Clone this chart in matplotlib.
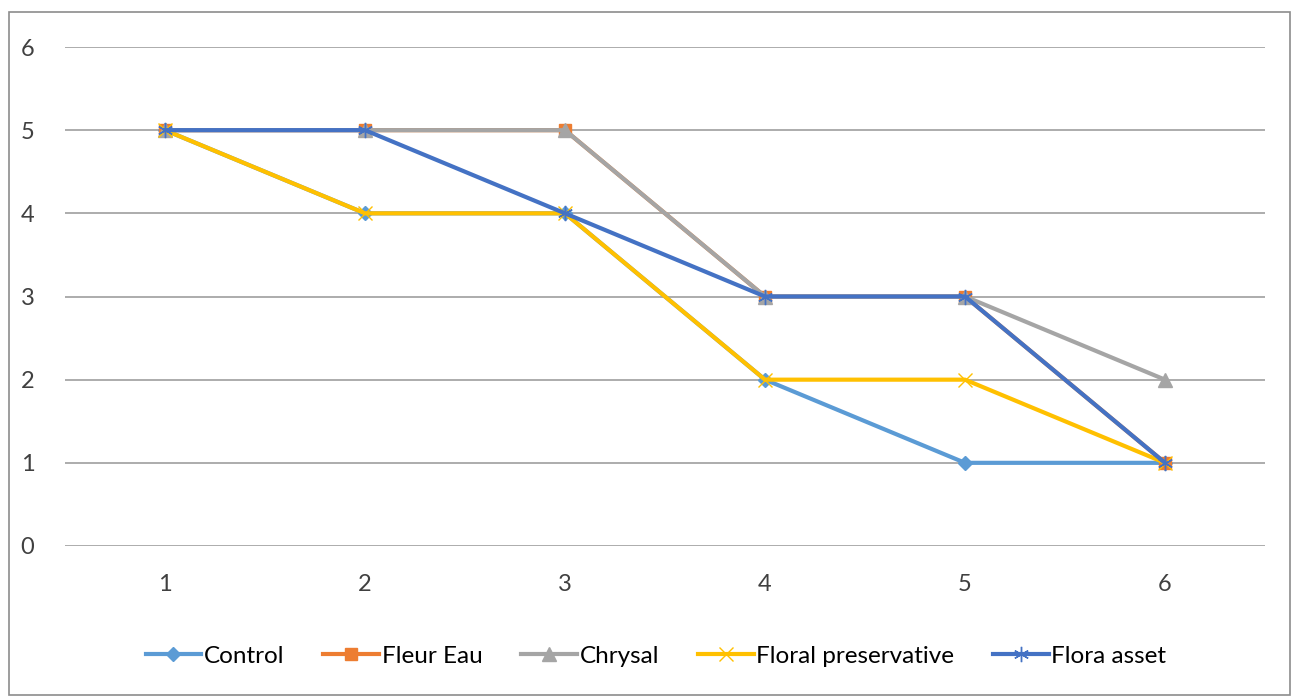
import matplotlib.pyplot as plt
from matplotlib.patches import Rectangle

plt.rcParams['font.family'] = ['Lato', 'DejaVu Sans']

days = [1, 2, 3, 4, 5, 6]
control = [5, 4, 4, 2, 1, 1]
fleur_eau = [5, 5, 5, 3, 3, 1]
chrysal = [5, 5, 5, 3, 3, 2]
floral_pres = [5, 4, 4, 2, 2, 1]
flora_asset = [5, 5, 4, 3, 3, 1]

W, H = 1295, 698
fig = plt.figure(figsize=(W / 100, H / 100), dpi=100)
ax = fig.add_axes([65 / W, 1 - 546 / H, 1200 / W, (546 - 47) / H])

ax.plot(days, control, color='#5B9BD5', lw=3, marker='D', ms=7, label='Control')
ax.plot(days, fleur_eau, color='#ED7D31', lw=3, marker='s', ms=9, label='Fleur Eau')
ax.plot(days, chrysal, color='#A5A5A5', lw=3, marker='^', ms=10, label='Chrysal')
ax.plot(days, floral_pres, color='#FFC000', lw=3, marker='x', ms=10, mew=1,
        label='Floral preservative')
ax.plot(days, flora_asset, color='#4472C4', lw=3, marker=(6, 2, 0), ms=11, mew=1,
        label='Flora asset')

ax.set_xlim(0.5, 6.5)
ax.set_ylim(0, 6)
ax.set_yticks(range(7))
ax.set_xticks(days)
ax.grid(axis='y', color='#A6A6A6', lw=1.3)
ax.set_axisbelow(True)
for s in ['top', 'right', 'left', 'bottom']:
    ax.spines[s].set_visible(False)
ax.tick_params(length=0, labelsize=17, colors='#404040')
ax.tick_params(axis='y', pad=22)
ax.tick_params(axis='x', pad=20)

fig.legend(loc='center', bbox_to_anchor=(656 / W, 1 - 656 / H), ncol=5, frameon=False,
           fontsize=17.5, handlelength=2.3, columnspacing=1.6, handletextpad=0.1,
           labelcolor='#000000')

fig.patches.append(Rectangle((9 / W, 3 / H), 1281 / W, 683 / H, transform=fig.transFigure,
                             fill=False, edgecolor='#8C8C8C', lw=1.2))

fig.savefig('out.png', dpi=100)
